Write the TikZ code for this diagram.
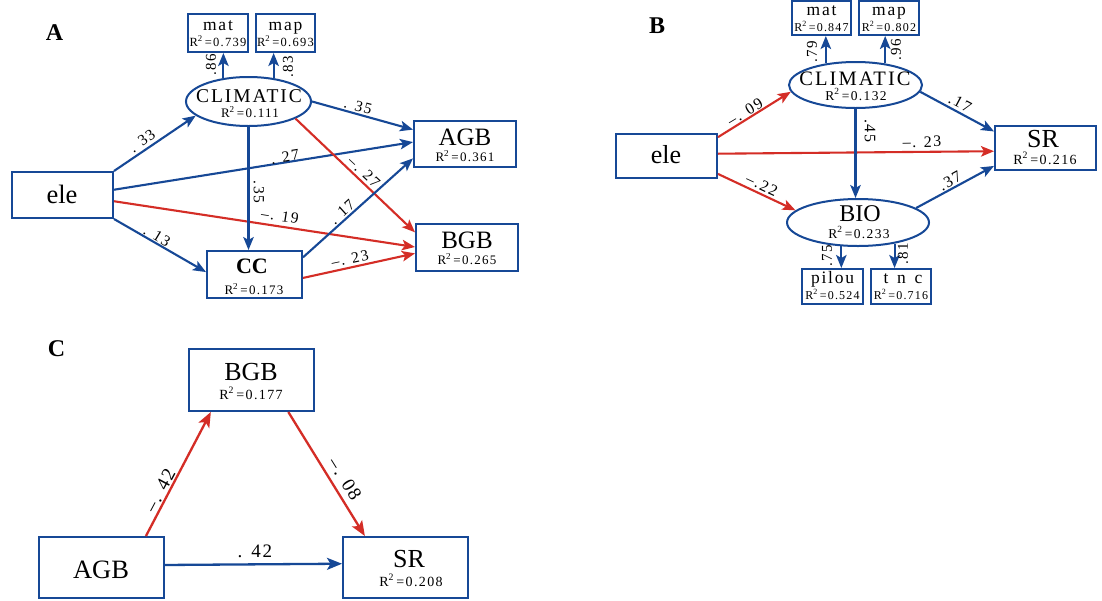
\documentclass[tikz,border=0pt]{standalone}
\usepackage{fontspec}
\setmainfont{Liberation Serif}
\newfontfamily\spfont[LetterSpace=10]{Liberation Serif}
\newfontfamily\wfont[LetterSpace=50]{Liberation Serif}
\usetikzlibrary{arrows.meta,shapes.geometric,calc}
\definecolor{sblue}{RGB}{22,72,150}
\definecolor{sred}{RGB}{212,45,38}
\newcommand{\fs}[1]{\fontsize{#1}{#1}\selectfont}
\newcommand{\rsq}[1]{R\textsuperscript{2}\,=#1}
\tikzset{
  box/.style={draw=sblue,line width=2pt,rectangle,inner sep=0pt,fill=white},
  ell/.style={draw=sblue,line width=2pt,ellipse,inner sep=0pt,fill=white},
  txt/.style={anchor=base,inner sep=0pt,text=black},
  posarr/.style={draw=sblue,line width=2.1pt,-{Stealth[length=13pt,width=10.5pt,inset=3pt]}},
  negarr/.style={draw=sred,line width=2.1pt,-{Stealth[length=13pt,width=10.5pt,inset=3pt]}},
  bigtip/.style={line width=2.3pt,-{Stealth[length=15pt,width=12pt,inset=3.5pt]}},
  lab/.style={inner sep=0pt,text=black},
  panel/.style={inner sep=0pt,font=\bfseries\fs{24}},
}
\begin{document}
\begin{tikzpicture}[x=1pt,y=-1pt]
\useasboundingbox (0,0) rectangle (1102,600);
\fill[white] (0,0) rectangle (1102,600);

% ---------------- Panel A ----------------
\node[panel] (pA) at (54.5,33) {A};
\node[box,minimum width=60pt,minimum height=38pt] (matA) at (218,33) {};
\node[box,minimum width=59pt,minimum height=38pt] (mapA) at (285.5,33) {};
\node[ell,minimum width=125pt,minimum height=49pt] (climA) at (248.5,101.5) {};
\node[box,minimum width=101pt,minimum height=46pt] (eleA) at (62.5,195) {};
\node[box,minimum width=102pt,minimum height=46pt] (agbA) at (465,144) {};
\node[box,minimum width=102pt,minimum height=47pt] (bgbA) at (467,247.5) {};
\node[box,minimum width=95pt,minimum height=47pt] (ccA) at (254.5,274.5) {};

\node[txt,font=\spfont\fs{17.5}] (matAn) at (218,30) {mat};
\node[txt,font=\spfont\fs{12.5}] (matAr) at (218,46) {\rsq{0.739}};
\node[txt,font=\spfont\fs{17.5}] (mapAn) at (285.5,30) {map};
\node[txt,font=\spfont\fs{12.5}] (mapAr) at (285.5,46) {\rsq{0.693}};
\node[txt,font=\spfont\fs{19.5}] (climAn) at (249,102) {CLIMATIC};
\node[txt,font=\spfont\fs{13}] (climAr) at (250,117) {\rsq{0.111}};
\node[txt,font=\fs{26.5}] (eleAn) at (62,203) {ele};
\node[txt,font=\fs{25}] (agbAn) at (465,145) {AGB};
\node[txt,font=\spfont\fs{13}] (agbAr) at (465,161) {\rsq{0.361}};
\node[txt,font=\fs{25}] (bgbAn) at (467,248) {BGB};
\node[txt,font=\spfont\fs{13}] (bgbAr) at (467,264) {\rsq{0.265}};
\node[txt,font=\bfseries\fs{22}] (ccAn) at (252,273) {CC};
\node[txt,font=\spfont\fs{13}] (ccAr) at (254,294) {\rsq{0.173}};

\draw[posarr] (eleA.north east) -- (climA.195);
\draw[posarr] ($(eleA.north east)!0.39!(eleA.south east)$) -- ($(agbA.north west)!0.46!(agbA.south west)$);
\draw[negarr] ($(eleA.north east)!0.63!(eleA.south east)$) -- ($(bgbA.north west)!0.49!(bgbA.south west)$);
\draw[posarr] (eleA.south east) -- ($(ccA.north west)!0.45!(ccA.south west)$);
\draw[posarr] (climA.east) -- ($(agbA.north west)!0.2!(agbA.south west)$);
\draw[negarr] (climA.340) -- ($(bgbA.north west)!0.19!(bgbA.south west)$);
\draw[posarr] (climA.south) -- (climA.south |- ccA.north);
\draw[posarr] ($(ccA.north east)!0.15!(ccA.south east)$) -- ($(agbA.north west)!0.8!(agbA.south west)$);
\draw[negarr] ($(ccA.north east)!0.57!(ccA.south east)$) -- ($(bgbA.north west)!0.62!(bgbA.south west)$);
\draw[posarr] (climA.137) -- (climA.137 |- matA.south);
\draw[posarr] (climA.43) -- (climA.43 |- mapA.south);

\node[lab,font=\spfont\fs{15.5},rotate=36] (lA1) at (142,141) {. 33};
\node[lab,font=\spfont\fs{15.5},rotate=9] (lA2) at (285,157) {. 27};
\node[lab,font=\spfont\fs{15.5},rotate=-9] (lA3) at (280,216) {–. 19};
\node[lab,font=\spfont\fs{15.5},rotate=-31] (lA4) at (157,236) {. 13};
\node[lab,font=\spfont\fs{15.5},rotate=-15] (lA5) at (358,106) {. 35};
\node[lab,font=\spfont\fs{15.5},rotate=-43] (lA6) at (364,172) {–. 27};
\node[lab,font=\spfont\fs{15.5},rotate=-90] (lA7) at (259,192) {.35};
\node[lab,font=\spfont\fs{15.5},rotate=42] (lA8) at (342,212) {. 17};
\node[lab,font=\spfont\fs{15.5},rotate=12] (lA9) at (350,259) {–. 23};
\node[lab,font=\spfont\fs{15},rotate=90] (lA10) at (211,65) {.86};
\node[lab,font=\spfont\fs{15},rotate=90] (lA11) at (288,67) {.83};

% ---------------- Panel B ----------------
\node[panel] (pB) at (657,26) {B};
\node[box,minimum width=59pt,minimum height=34pt] (matB) at (821.5,18) {};
\node[box,minimum width=60pt,minimum height=34pt] (mapB) at (889,18) {};
\node[ell,minimum width=133pt,minimum height=46pt] (climB) at (855.5,85) {};
\node[box,minimum width=101pt,minimum height=44pt] (eleB) at (666.5,156) {};
\node[box,minimum width=101pt,minimum height=44pt] (srB) at (1045.5,148) {};
\node[ell,minimum width=142pt,minimum height=47pt] (bioB) at (858,222.5) {};
\node[box,minimum width=61pt,minimum height=35pt] (pilouB) at (832.5,286.5) {};
\node[box,minimum width=60pt,minimum height=35pt] (tncB) at (901,286.5) {};

\node[txt,font=\spfont\fs{17.5}] (matBn) at (821.5,15.5) {mat};
\node[txt,font=\spfont\fs{12}] (matBr) at (821.5,31) {\rsq{0.847}};
\node[txt,font=\spfont\fs{17.5}] (mapBn) at (889,15.5) {map};
\node[txt,font=\spfont\fs{12}] (mapBr) at (889,31) {\rsq{0.802}};
\node[txt,font=\spfont\fs{20.5}] (climBn) at (855,85) {CLIMATIC};
\node[txt,font=\spfont\fs{13.5}] (climBr) at (856,100) {\rsq{0.132}};
\node[txt,font=\fs{26}] (eleBn) at (666,163) {ele};
\node[txt,font=\fs{26}] (srBn) at (1043,147) {SR};
\node[txt,font=\spfont\fs{14}] (srBr) at (1045,164) {\rsq{0.216}};
\node[txt,font=\fs{24}] (bioBn) at (860,221) {BIO};
\node[txt,font=\spfont\fs{13.5}] (bioBr) at (859,238) {\rsq{0.233}};
\node[txt,font=\spfont\fs{17.5}] (pilouBn) at (832.5,283) {pilou};
\node[txt,font=\spfont\fs{12}] (pilouBr) at (832.5,299) {\rsq{0.524}};
\node[txt,font=\wfont\fs{17.5}] (tncBn) at (903,283) {tnc};
\node[txt,font=\spfont\fs{12}] (tncBr) at (901,299) {\rsq{0.716}};

\draw[negarr] ($(eleB.north east)!0.09!(eleB.south east)$) -- (climB.186);
\draw[negarr] ($(eleB.north east)!0.45!(eleB.south east)$) -- ($(srB.north west)!0.57!(srB.south west)$);
\draw[negarr] ($(eleB.north east)!0.89!(eleB.south east)$) -- (bioB.169);
\draw[posarr] (climB.354) -- ($(srB.north west)!0.14!(srB.south west)$);
\draw[posarr] (climB.south) -- (climB.south |- bioB.north);
\draw[posarr] (bioB.14) -- ($(srB.north west)!0.89!(srB.south west)$);
\draw[posarr] (climB.144) -- (climB.144 |- matB.south);
\draw[posarr] (climB.36) -- (climB.36 |- mapB.south);
\draw[posarr] (bioB.235) -- (bioB.235 |- pilouB.north);
\draw[posarr] (bioB.330) -- (bioB.330 |- tncB.north);

\node[lab,font=\spfont\fs{16},rotate=31] (lB1) at (745,112) {–. 09};
\node[lab,font=\spfont\fs{16},rotate=1] (lB2) at (922,142) {–. 23};
\node[lab,font=\spfont\fs{16},rotate=-25] (lB3) at (762,185) {–.22};
\node[lab,font=\spfont\fs{16},rotate=-28] (lB4) at (960,103) {.17};
\node[lab,font=\spfont\fs{16},rotate=-90] (lB5) at (870,131) {.45};
\node[lab,font=\spfont\fs{16},rotate=29] (lB6) at (950,181) {.37};
\node[lab,font=\spfont\fs{15},rotate=90] (lB7) at (812,52) {.79};
\node[lab,font=\spfont\fs{15},rotate=90] (lB8) at (896,50) {.96};
\node[lab,font=\spfont\fs{15},rotate=90] (lB9) at (827,256) {.75};
\node[lab,font=\spfont\fs{15},rotate=90] (lB10) at (903,254) {.81};

% ---------------- Panel C ----------------
\node[panel] (pC) at (56.5,349) {C};
\node[box,minimum width=125pt,minimum height=62pt] (bgbC) at (251.5,380) {};
\node[box,minimum width=125pt,minimum height=61pt] (agbC) at (101.5,567.5) {};
\node[box,minimum width=125pt,minimum height=61pt] (srC) at (405.5,567.5) {};

\node[txt,font=\fs{26}] (bgbCn) at (251,380) {BGB};
\node[txt,font=\spfont\fs{14}] (bgbCr) at (251,399) {\rsq{0.177}};
\node[txt,font=\fs{26.5}] (agbCn) at (101,578) {AGB};
\node[txt,font=\fs{26}] (srCn) at (409,567) {SR};
\node[txt,font=\spfont\fs{14}] (srCr) at (411,586) {\rsq{0.208}};

\draw[negarr,bigtip] ($(agbC.north west)!0.85!(agbC.north east)$) -- ($(bgbC.south west)!0.18!(bgbC.south east)$);
\draw[negarr,bigtip] ($(bgbC.south west)!0.79!(bgbC.south east)$) -- ($(srC.north west)!0.18!(srC.north east)$);
\draw[posarr,bigtip] ($(agbC.north east)!0.46!(agbC.south east)$) -- ($(srC.north west)!0.44!(srC.south west)$);

\node[lab,font=\spfont\fs{19},rotate=62] (lC1) at (160,490) {–. 42};
\node[lab,font=\spfont\fs{19},rotate=-58] (lC2) at (345,479) {–. 08};
\node[lab,font=\spfont\fs{19}] (lC3) at (255,551) {. 42};
\end{tikzpicture}
\end{document}
